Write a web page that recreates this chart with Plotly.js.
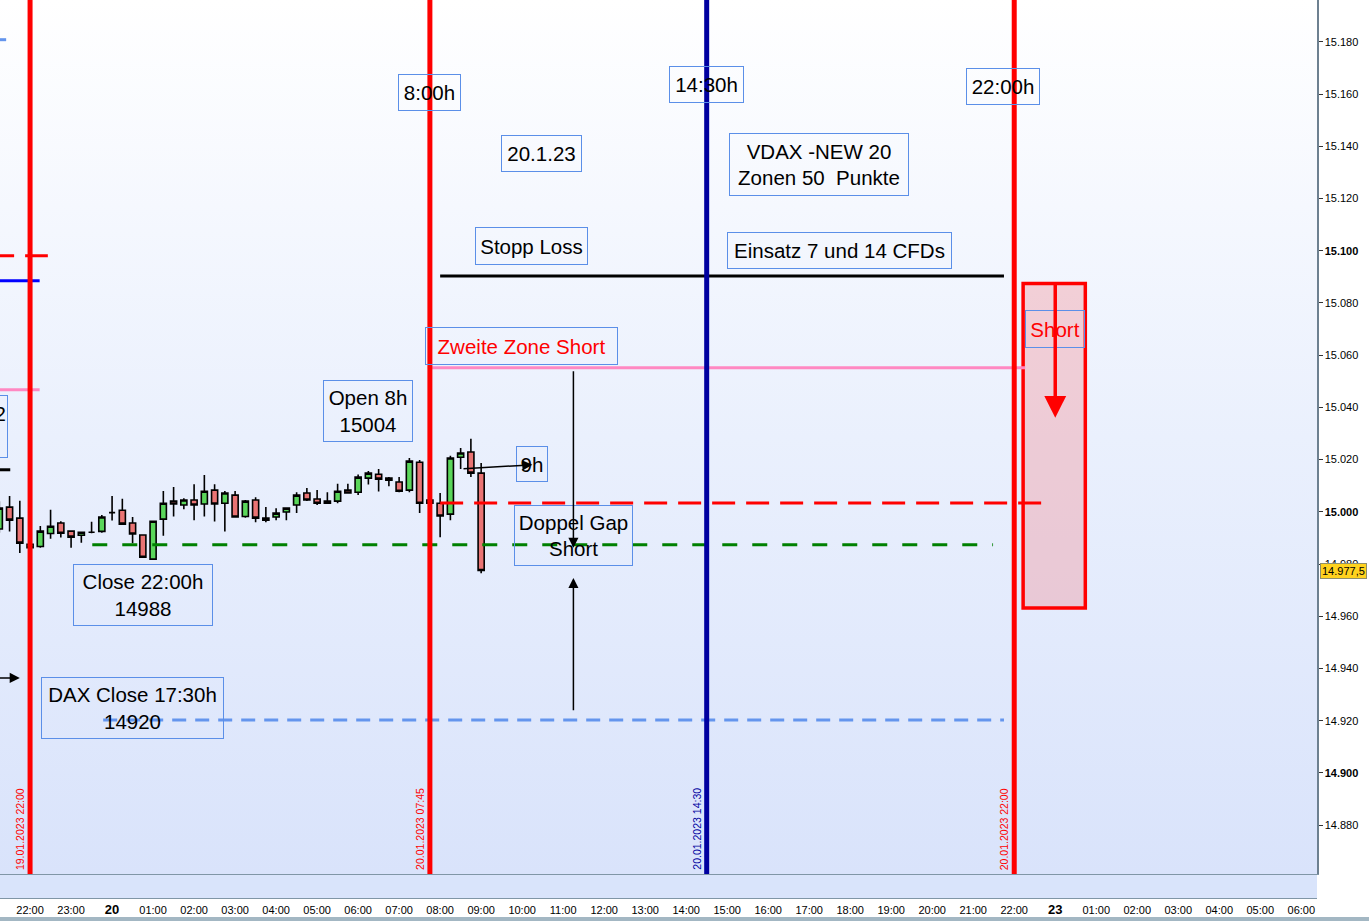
<!DOCTYPE html>
<html><head><meta charset="utf-8">
<script src="https://cdn.plot.ly/plotly-3.0.1.min.js"></script>
<style>
html,body{margin:0;padding:0;background:#fff;}
#wrap{position:relative;width:1369px;height:921px;overflow:hidden;background:#fff;}
#bgPlot{position:absolute;left:0;top:0;width:1317px;height:874px;background:linear-gradient(to bottom,#ffffff 0%,#eaf0fd 50%,#d9e3fb 100%);}
#bgSub{position:absolute;left:0;top:874px;width:1317px;height:23px;background:#d9e4fb;border-top:1px solid #8096a6;border-bottom:1px solid #8096a6;}
#bgBar{position:absolute;left:0;top:917px;width:1369px;height:4px;background:#a3b7c3;}
#chart{position:absolute;left:0;top:0;width:1369px;height:921px;}
</style></head>
<body><div id="wrap"><div id="bgPlot"></div><div id="bgSub"></div><div id="bgBar"></div><div id="chart"></div></div>
<script>
// ---- candles (15 min) ----
const candleTimes = ['2023-01-19 21:15','2023-01-19 21:30','2023-01-19 21:45','2023-01-19 22:00','2023-01-19 22:15','2023-01-19 22:30','2023-01-19 22:45','2023-01-19 23:00','2023-01-19 23:15','2023-01-19 23:30','2023-01-19 23:45',
'2023-01-20 00:00','2023-01-20 00:15','2023-01-20 00:30','2023-01-20 00:45','2023-01-20 01:00','2023-01-20 01:15','2023-01-20 01:30','2023-01-20 01:45','2023-01-20 02:00','2023-01-20 02:15','2023-01-20 02:30','2023-01-20 02:45',
'2023-01-20 03:00','2023-01-20 03:15','2023-01-20 03:30','2023-01-20 03:45','2023-01-20 04:00','2023-01-20 04:15','2023-01-20 04:30','2023-01-20 04:45','2023-01-20 05:00','2023-01-20 05:15','2023-01-20 05:30','2023-01-20 05:45',
'2023-01-20 06:00','2023-01-20 06:15','2023-01-20 06:30','2023-01-20 06:45','2023-01-20 07:00','2023-01-20 07:15','2023-01-20 07:30','2023-01-20 07:45','2023-01-20 08:00','2023-01-20 08:15','2023-01-20 08:30','2023-01-20 08:45','2023-01-20 09:00'];
const openVals  = [14993.4,15001.8,14997.6,14987.6,14986.7,14991.7,14995.7,14992.6,14991.0,14992.2,14992.5,14999.7,15000.6,14995.7,14991.1,14981.9,14997.2,15004.1,15002.6,15004.5,15003.0,15008.3,15003.3,15006.4,14998.2,15004.5,14996.8,14998.0,14999.9,15002.6,15007.2,15004.9,15004.1,15004.1,15008.3,15007.5,15012.9,15014.4,15012.9,15011.4,15008.3,15019.0,15004.5,15003.3,14999.1,15020.9,15022.9,15014.8];
const highVals  = [15004.0,15006.1,15004.2,14988.5,14994.6,15000.8,14996.4,14992.6,14992.2,14996.2,14998.8,15006.1,15005.0,14998.0,14991.1,14996.4,15008.0,15009.5,15005.2,15010.6,15014.1,15010.6,15008.0,15008.0,15004.5,15005.6,15001.8,15001.4,15001.4,15007.5,15009.1,15008.4,15007.5,15010.7,15010.7,15014.3,15015.6,15016.4,15013.3,15013.3,15020.6,15019.8,15004.8,15007.2,15021.5,15024.4,15028.0,15018.7];
const lowVals   = [14992.0,14992.5,14984.2,14985.5,14986.2,14989.7,14990.2,14986.2,14988.2,14991.8,14992.0,14996.7,14995.3,14988.0,14982.6,14981.9,14990.8,14998.2,15001.0,14996.8,14998.2,14996.3,14992.5,14998.0,14997.7,14996.0,14996.0,14996.8,14996.8,14999.5,15004.1,15002.6,15003.0,15003.3,15007.2,15006.4,15010.5,15007.8,15009.8,15007.5,15007.5,14999.5,15003.0,14990.3,14996.8,15016.4,15013.3,14976.5];
const closeVals = [15001.4,14996.8,14988.0,14986.3,14992.6,14994.5,14991.8,14990.3,14992.2,14992.2,14998.0,14999.7,14995.3,14991.5,14982.6,14996.4,15003.3,15003.0,15004.5,15002.6,15007.9,15003.0,15007.2,14998.0,15004.1,14997.6,14997.6,14999.5,15001.4,15006.4,15004.5,15003.3,15003.3,15007.9,15007.2,15013.3,15014.8,15012.5,15012.1,15007.9,15019.4,15003.3,15003.3,14998.4,15020.6,15022.5,15014.8,14977.5];
const lastPrice = 14977.5;

// ---- horizontal levels ----
const levelValues = [15090.3, 15055.2, 15003.4, 14987.4, 14920.3];
const levelStart  = ['2023-01-20 08:00','2023-01-20 07:42','2023-01-20 08:00','2023-01-19 23:31','2023-01-19 23:47'];
const levelEnd    = ['2023-01-20 21:45','2023-01-20 22:16','2023-01-20 22:41','2023-01-20 21:29','2023-01-20 21:45'];
const prevLevelValues = [15180.8, 15098.1, 15088.5, 15046.7, 15016.1];
const prevLevelStart  = '2023-01-19 21:03';
const prevLevelEnd    = ['2023-01-19 21:25','2023-01-19 22:26','2023-01-19 22:14','2023-01-19 22:14','2023-01-19 21:31'];

// ---- vertical time markers ----
const eventTimes  = ['2023-01-19 22:00','2023-01-20 07:45','2023-01-20 14:30','2023-01-20 22:00'];
const eventLabels = ['19.01.2023 22:00','20.01.2023 07:45','20.01.2023 14:30','20.01.2023 22:00'];

// ---- short zone box ----
const zoneStart = '2023-01-20 22:13', zoneEnd = '2023-01-23 00:44';
const zoneTop = 15087.4, zoneBottom = 14963.2;

// ---- text notes ----
const noteTexts  = ['8:00h','14:30h','22:00h','20.1.23','VDAX -NEW 20<br>Zonen 50&nbsp; Punkte','Stopp Loss','Einsatz 7 und 14 CFDs','Zweite Zone Short','Open 8h<br>15004','9h','Doppel Gap<br>Short','Close 22:00h<br>14988','DAX Close 17:30h<br>14920','Short'];
const noteTimes  = ['2023-01-20 07:45','2023-01-20 14:29','2023-01-20 21:44','2023-01-20 10:28','2023-01-20 17:15','2023-01-20 10:13','2023-01-20 17:45','2023-01-20 09:59','2023-01-20 06:15','2023-01-20 10:15','2023-01-20 11:15','2023-01-20 00:45','2023-01-20 00:30','2023-01-23 00:00'];
const noteValues = [15160.5,15163.6,15162.8,15137.2,15132.9,15101.9,15100.0,15063.6,15038.7,15018.4,14991.0,14968.2,14924.9,15070.1];

// ---- arrows: head / tail positions ----
const arrowHeadTimes  = ['2023-01-20 11:15','2023-01-20 11:15','2023-01-20 10:15','2023-01-19 21:45','2023-01-23 00:00'];
const arrowHeadValues = [14986.2, 14974.7, 15018.0, 14936.4, 15036.0];
const arrowTailTimes  = ['2023-01-20 11:15','2023-01-20 11:15','2023-01-20 08:32','2023-01-19 21:00','2023-01-23 00:00'];
const arrowTailValues = [15054.4, 14923.4, 15016.5, 14936.4, 15088.1];

// ---- axis ticks ----
const xTickTimes = ['2023-01-19 22:00','2023-01-19 23:00','2023-01-20 00:00','2023-01-20 01:00','2023-01-20 02:00','2023-01-20 03:00','2023-01-20 04:00','2023-01-20 05:00','2023-01-20 06:00','2023-01-20 07:00','2023-01-20 08:00','2023-01-20 09:00','2023-01-20 10:00','2023-01-20 11:00','2023-01-20 12:00','2023-01-20 13:00','2023-01-20 14:00','2023-01-20 15:00','2023-01-20 16:00','2023-01-20 17:00','2023-01-20 18:00','2023-01-20 19:00','2023-01-20 20:00','2023-01-20 21:00','2023-01-20 22:00','2023-01-23 00:00','2023-01-23 01:00','2023-01-23 02:00','2023-01-23 03:00','2023-01-23 04:00','2023-01-23 05:00','2023-01-23 06:00'];
const xTickLabels = ['22:00','23:00','20','01:00','02:00','03:00','04:00','05:00','06:00','07:00','08:00','09:00','10:00','11:00','12:00','13:00','14:00','15:00','16:00','17:00','18:00','19:00','20:00','21:00','22:00','23','01:00','02:00','03:00','04:00','05:00','06:00'];
const yTickValues = [14880,14900,14920,14940,14960,14980,15000,15020,15040,15060,15080,15100,15120,15140,15160,15180];
const yTickLabels = ['14.880','14.900','14.920','14.940','14.960','14.980','15.000','15.020','15.040','15.060','15.080','15.100','15.120','15.140','15.160','15.180'];

// ================= styles / building =================
const FONT = 'Liberation Sans, Arial, sans-serif';
const levelColors = ['#000000','#ff88c2','#ff0000','#008000','#6495ed'];
const levelDash   = ['solid','solid','23px,11px','15px,15px','14px,9px'];
const prevColors  = ['#6495ed','#ff0000','#0000ff','#ff88c2','#000000'];
const prevDash    = ['solid','23px,11px','solid','solid','solid'];
const eventColors = ['#ff0000','#ff0000','#0000a0','#ff0000'];
const noteW = [61,73,72,79,178,111,223,191,88,30,117,138,181,58];
const noteH = [35,35,35,35,61,36,35,36,60,34,59,60,60,36];
const noteColor = ['#000','#000','#000','#000','#000','#000','#000','#ff0000','#000','#000','#000','#000','#000','#ff0000'];

const shapes = [];
shapes.push({type:'rect', xref:'x', yref:'y', x0:zoneStart, x1:zoneEnd, y0:zoneBottom, y1:zoneTop,
  fillcolor:'rgba(245,119,126,0.30)', line:{color:'#ff0000', width:3.5}, layer:'above'});
levelValues.forEach((v,i)=>shapes.push({type:'line', xref:'x', yref:'y', x0:levelStart[i], x1:levelEnd[i], y0:v, y1:v,
  line:{color:levelColors[i], width:3, dash:levelDash[i]}, layer:'above'}));
prevLevelValues.forEach((v,i)=>shapes.push({type:'line', xref:'x', yref:'y', x0:prevLevelStart, x1:prevLevelEnd[i], y0:v, y1:v,
  line:{color:prevColors[i], width:3, dash:prevDash[i]}, layer:'above'}));
eventTimes.forEach((t,i)=>shapes.push({type:'line', xref:'x', yref:'paper', x0:t, x1:t, y0:0, y1:1,
  line:{color:eventColors[i], width:5}, layer:'above'}));

const annotations = [];
eventTimes.forEach((t,i)=>annotations.push({x:t, xref:'x', y:0, yref:'paper', text:eventLabels[i], textangle:-90,
  showarrow:false, xanchor:'right', yanchor:'bottom', xshift:-2, yshift:2, font:{family:FONT, size:10.5, color:eventColors[i]}}));
noteTexts.forEach((txt,i)=>annotations.push({x:noteTimes[i], xref:'x', y:noteValues[i], yref:'y', text:txt,
  showarrow:false, xanchor:'center', yanchor:'middle', width:noteW[i], height:noteH[i], borderpad:0,
  bordercolor:'#5b8fe8', borderwidth:1, font:{family:FONT, size:20.5, color:noteColor[i]}}));
// note box cut at the left edge
annotations.push({x:8/1317, xref:'paper', y:15032.8, yref:'y', text:'Zone 2<br>Short', showarrow:false,
  xanchor:'right', yanchor:'middle', width:66, height:61, borderpad:0, bordercolor:'#5b8fe8', borderwidth:1,
  font:{family:FONT, size:20.5, color:'#000'}});
arrowHeadTimes.forEach((t,i)=>{
  const red = i===4;
  annotations.push({x:t, xref:'x', y:arrowHeadValues[i], yref:'y', ax:arrowTailTimes[i], axref:'x',
    ay:arrowTailValues[i], ayref:'y', text:'', showarrow:true, arrowhead:2, standoff:0,
    arrowsize: red?1.25:1.35, arrowwidth: red?3.5:1.5, arrowcolor: red?'#ff0000':'#000000'});
});
annotations.push({x:1, xref:'paper', y:lastPrice, yref:'y', xanchor:'left', xshift:3, showarrow:false,
  text:'14.977,5', bgcolor:'#ffd21e', bordercolor:'#8f8f6a', borderwidth:1, borderpad:1,
  font:{family:FONT, size:11, color:'#000'}});

const trace = {type:'candlestick', x:candleTimes, open:openVals, high:highVals, low:lowVals, close:closeVals,
  increasing:{line:{color:'#000', width:1.6}, fillcolor:'#5ad65a'},
  decreasing:{line:{color:'#000', width:1.6}, fillcolor:'#ea7474'},
  whiskerwidth:0, showlegend:false, hoverinfo:'skip'};

const layout = {
  width:1369, height:921, margin:{l:0, r:52, t:0, b:47},
  paper_bgcolor:'rgba(0,0,0,0)', plot_bgcolor:'rgba(0,0,0,0)',
  showlegend:false, hovermode:false, boxgap:0.15,
  font:{family:FONT, size:11, color:'#000'},
  xaxis:{type:'date', range:['2023-01-19 21:16','2023-01-23 06:23'],
    rangebreaks:[{bounds:['2023-01-20 23:00','2023-01-23 00:00']}],
    rangeslider:{visible:false}, showgrid:false, zeroline:false,
    showline:true, linecolor:'#8096a6', linewidth:1,
    tickvals:xTickTimes,
    ticktext:xTickLabels.map(s=>s.length<=2?'<b><span style="font-size:13px">'+s+'</span></b>':s),
    ticks:'', ticklabelstandoff:26, tickfont:{family:FONT, size:11, color:'#000'}},
  yaxis:{side:'right', range:[14861.3, 15196], showgrid:false, zeroline:false,
    showline:true, linecolor:'#6d8090', linewidth:1.5, ticks:'outside', ticklen:4, tickcolor:'#333',
    tickvals:yTickValues, ticktext:yTickLabels.map((s,i)=>yTickValues[i]%100===0?'<b>'+s+'</b>':s),
    tickfont:{family:FONT, size:11, color:'#000'}},
  shapes:shapes, annotations:annotations
};
Plotly.newPlot('chart', [trace], layout, {staticPlot:true, displayModeBar:false});
</script></body></html>
